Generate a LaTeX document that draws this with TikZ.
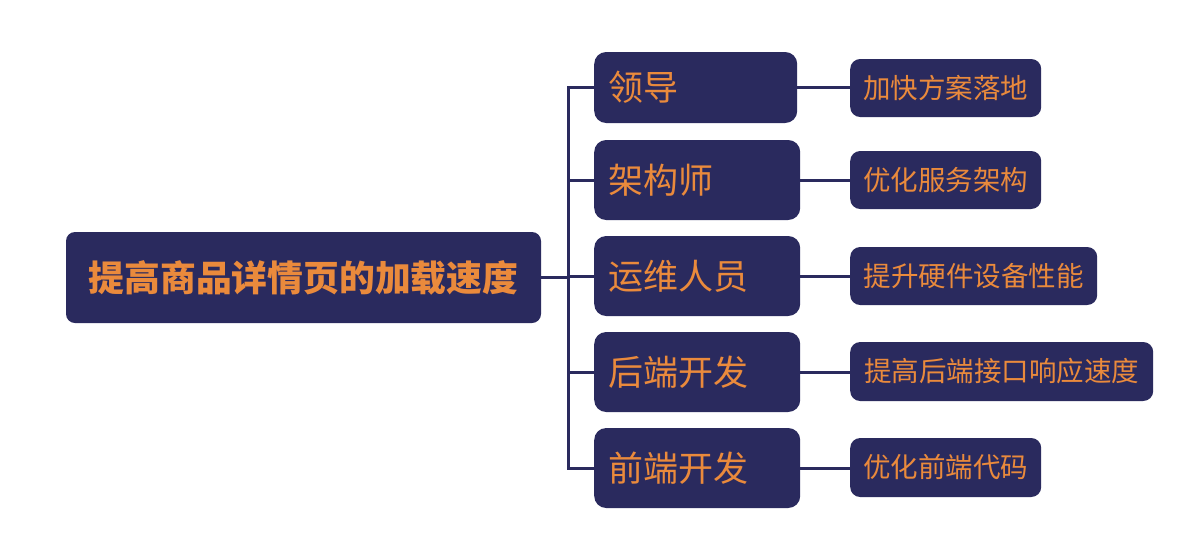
\documentclass[tikz,border=0pt]{standalone}
\usepackage{fontspec}
\newfontfamily\cjk{Noto Sans CJK SC}
\definecolor{navy}{HTML}{2A2A5E}
\definecolor{orng}{HTML}{EA8A3C}
\begin{document}
\begin{tikzpicture}[x=1pt,y=-1pt,
  box/.style={fill=navy,text=orng,inner sep=0pt,font=\cjk},
  root/.style={box,rounded corners=9pt,minimum width=475pt,minimum height=91pt,font=\cjk\bfseries\fontsize{35.8}{40}\selectfont},
  lvtwo/.style={box,rounded corners=12pt,minimum height=80pt,text width=178pt,inner xsep=14pt,align=left,font=\cjk\fontsize{35}{40}\selectfont},
  lvthree/.style={box,rounded corners=10pt,minimum height=58pt,inner xsep=13pt,font=\cjk\fontsize{27.5}{32}\selectfont},
  link/.style={draw=navy,line width=3pt}]
\useasboundingbox (0,0) rectangle (1186,544);
\node[root] (root) at (303.5,277.5) {提高商品详情页的加载速度};
\node[lvtwo,anchor=west,minimum height=71pt,text width=175pt] (a) at (594,87.5) {领导};
\node[lvtwo,anchor=west] (b) at (594,180) {架构师};
\node[lvtwo,anchor=west] (c) at (594,276) {运维人员};
\node[lvtwo,anchor=west] (d) at (594,372) {后端开发};
\node[lvtwo,anchor=west] (e) at (594,468) {前端开发};
\node[lvthree,anchor=west,minimum width=191pt] (a1) at (850,88) {加快方案落地};
\node[lvthree,anchor=west,minimum width=191pt] (b1) at (850,180) {优化服务架构};
\node[lvthree,anchor=west,minimum width=247pt] (c1) at (850,276) {提升硬件设备性能};
\node[lvthree,anchor=west,minimum width=303pt,minimum height=59pt] (d1) at (850,371.5) {提高后端接口响应速度};
\node[lvthree,anchor=west,minimum width=191pt,minimum height=59pt] (e1) at (850,467.5) {优化前端代码};
\coordinate (bus) at (568,277);
\draw[link,line join=miter] (a.west) -- (a.west -| bus) -- (e.west -| bus) -- (e.west);
\draw[link] (root.east) -- (root.east -| bus);
\foreach \n in {b,c,d} \draw[link] (\n.west) -- (\n.west -| bus);
\foreach \n in {a,b,c,d,e} \draw[link] (\n.east) -- (\n.east -| \n1.west);
\end{tikzpicture}
\end{document}
